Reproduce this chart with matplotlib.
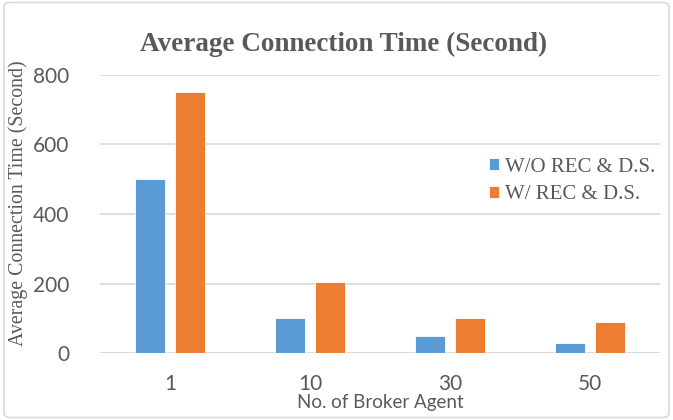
import matplotlib
matplotlib.use("Agg")
import matplotlib.pyplot as plt
import numpy as np
from matplotlib.patches import FancyBboxPatch

categories = ["1", "10", "30", "50"]
series_names = ["W/O REC & D.S.", "W/ REC & D.S."]
wo_rec = [500, 100, 50, 30]
w_rec = [750, 205, 100, 90]
yticks = [0, 200, 400, 600, 800]

blue = "#5B9BD5"
orange = "#ED7D31"
gray_txt = "#595959"

fig = plt.figure(figsize=(6.73, 4.2), dpi=100)
ax = fig.add_axes([100/673, 1-353/420, 560/673, 278/420])

x = np.arange(len(categories))
w = 0.215
off = 0.145
ax.bar(x - off, wo_rec, w, color=blue, edgecolor="white", linewidth=0.6, label=series_names[0], zorder=3)
ax.bar(x + off, w_rec, w, color=orange, edgecolor="white", linewidth=0.6, label=series_names[1], zorder=3)

ax.set_xlim(-0.5, len(categories) - 0.5)
ax.set_ylim(0, 800)
ax.set_yticks(yticks)
ax.set_xticks(x)
ax.set_xticklabels(categories)
ax.yaxis.grid(True, color="#D9D9D9", linewidth=1.2, zorder=0)
for s in ax.spines.values():
    s.set_visible(False)
ax.tick_params(axis="both", length=0, labelsize=15, labelcolor=gray_txt, labelfontfamily="Lato")
ax.tick_params(axis="y", pad=22)
ax.tick_params(axis="x", pad=15)
ax.axhline(0, color="#D9D9D9", linewidth=1.2, zorder=2)

ax.set_xlabel("No. of Broker Agent", fontsize=13.5, color=gray_txt, family="Lato", labelpad=0)
fig.text(18/673, 1-203/420, "Average Connection Time (Second)", rotation=90,
         ha="center", va="center", fontsize=14.3, color=gray_txt, family="Liberation Serif")
fig.text(344/673, 1-44/420, "Average Connection Time (Second)", ha="center", va="center",
         fontsize=19.5, fontweight="bold", color=gray_txt, family="Liberation Serif")

leg = ax.legend(loc="upper left", bbox_to_anchor=(470/673, 1-139/420), bbox_transform=fig.transFigure,
                frameon=False, prop={"family": "Liberation Serif", "size": 15},
                handlelength=0.5, handleheight=0.5, handletextpad=0.3, labelspacing=0.4)
for t in leg.get_texts():
    t.set_color(gray_txt)

border = FancyBboxPatch((0.006, 0.006), 0.988, 0.988, boxstyle="round,pad=0,rounding_size=0.01",
                        transform=fig.transFigure, fill=False, edgecolor="#D9D9D9", linewidth=1.2)
fig.patches.append(border)

fig.savefig("out.png", dpi=100)
